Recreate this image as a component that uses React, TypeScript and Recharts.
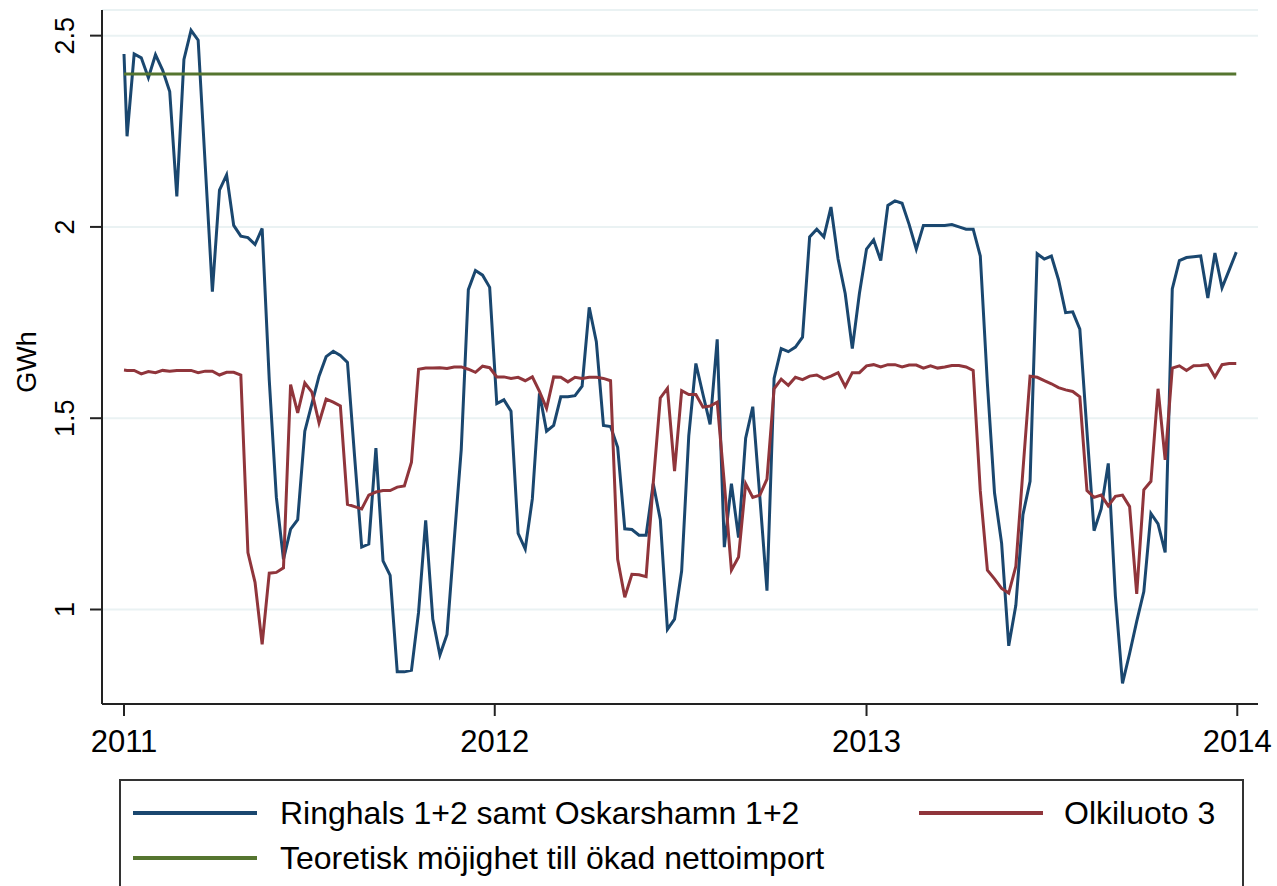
import React from 'react';
import { LineChart, Line, XAxis, YAxis, CartesianGrid, Label } from 'recharts';

// ── Look (Stata s2color-ish) ─────────────────────────────────────────────
const FONT = '"Liberation Sans", Arial, Helvetica, sans-serif';
const C = {
  navy: '#1a476f',
  maroon: '#90353b',
  green: '#55752f',
  grid: '#eaf2f3',
  axis: '#222222',
  text: '#000000',
};

// ── Data ─────────────────────────────────────────────────────────────────
// x = days since 2011-01-01: one obs on Jan 1, then weekly from Jan 4
const obsDays = [0, ...Array.from({ length: 157 }, (_, n) => 3 + 7 * n)];

// Ringhals 1+2 samt Oskarshamn 1+2 (GWh)
const ringhals = [
  2.452, 2.237, 2.452, 2.442, 2.39, 2.45, 2.41, 2.354, 2.08, 2.438, 2.514, 2.488, 2.16, 1.831,
  2.096, 2.136, 2.004, 1.976, 1.972, 1.954, 1.996, 1.6, 1.293, 1.131, 1.21, 1.235, 1.466, 1.538,
  1.61, 1.661, 1.675, 1.664, 1.646, 1.4, 1.163, 1.171, 1.422, 1.127, 1.089, 0.837, 0.837, 0.841,
  0.993, 1.233, 0.975, 0.881, 0.935, 1.179, 1.418, 1.836, 1.886, 1.874, 1.842, 1.538, 1.548,
  1.518, 1.199, 1.158, 1.289, 1.565, 1.466, 1.481, 1.556, 1.556, 1.559, 1.584, 1.79, 1.7, 1.481,
  1.478, 1.424, 1.211, 1.209, 1.194, 1.194, 1.329, 1.235, 0.948, 0.975, 1.101, 1.454, 1.643,
  1.562, 1.484, 1.706, 1.163, 1.329, 1.188, 1.448, 1.53, 1.293, 1.049, 1.604, 1.682, 1.674,
  1.686, 1.712, 1.974, 1.994, 1.974, 2.052, 1.916, 1.826, 1.682, 1.826, 1.942, 1.966, 1.912,
  2.056, 2.068, 2.062, 2.006, 1.942, 2.004, 2.004, 2.004, 2.004, 2.006, 2.0, 1.994, 1.994, 1.924,
  1.59, 1.305, 1.173, 0.905, 1.011, 1.248, 1.335, 1.93, 1.916, 1.924, 1.862, 1.776, 1.778, 1.733,
  1.466, 1.206, 1.263, 1.382, 1.035, 0.807, 0.885, 0.969, 1.047, 1.251, 1.224, 1.149, 1.838,
  1.912, 1.92, 1.922, 1.924, 1.814, 1.932, 1.841, 1.887, 1.934,
];

// Olkiluoto 3 (GWh)
const olkiluoto = [
  1.626, 1.625, 1.625, 1.616, 1.622, 1.619, 1.625, 1.623, 1.625, 1.625, 1.625, 1.619, 1.623,
  1.623, 1.613, 1.62, 1.62, 1.613, 1.149, 1.071, 0.909, 1.095, 1.097, 1.109, 1.588, 1.514, 1.592,
  1.568, 1.488, 1.55, 1.542, 1.532, 1.275, 1.269, 1.263, 1.299, 1.307, 1.311, 1.311, 1.32, 1.323,
  1.385, 1.628, 1.631, 1.631, 1.632, 1.63, 1.634, 1.634, 1.628, 1.62, 1.636, 1.632, 1.608, 1.608,
  1.604, 1.607, 1.598, 1.608, 1.57, 1.526, 1.608, 1.607, 1.595, 1.607, 1.604, 1.607, 1.607,
  1.604, 1.598, 1.131, 1.032, 1.092, 1.091, 1.086, 1.33, 1.553, 1.578, 1.362, 1.572, 1.562,
  1.562, 1.529, 1.532, 1.542, 1.33, 1.103, 1.137, 1.329, 1.293, 1.299, 1.341, 1.577, 1.602,
  1.586, 1.607, 1.601, 1.61, 1.613, 1.603, 1.61, 1.619, 1.583, 1.619, 1.619, 1.637, 1.64, 1.634,
  1.64, 1.64, 1.634, 1.639, 1.639, 1.631, 1.637, 1.631, 1.634, 1.638, 1.638, 1.634, 1.625, 1.31,
  1.103, 1.08, 1.055, 1.043, 1.113, 1.364, 1.61, 1.607, 1.598, 1.59, 1.58, 1.574, 1.57, 1.556,
  1.311, 1.293, 1.299, 1.271, 1.296, 1.299, 1.269, 1.041, 1.313, 1.335, 1.577, 1.391, 1.631,
  1.637, 1.625, 1.637, 1.638, 1.64, 1.608, 1.64, 1.643, 1.643,
];

// Teoretisk möjighet till ökad nettoimport (flat 2.4 GWh over the period)
const importCap = [
  { day: 0, value: 2.4 },
  { day: 1095, value: 2.4 },
];

const yearTicks = [0, 365, 731, 1096];
const yearLabels = ['2011', '2012', '2013', '2014'];
const gwhTicks = [1, 1.5, 2, 2.5];
const gwhLabels = ['1', '1.5', '2', '2.5'];

const rows = obsDays.map((day, i) => ({
  day,
  ringhals: ringhals[i],
  olkiluoto: olkiluoto[i],
}));

// ── Ticks ────────────────────────────────────────────────────────────────
function YearTick(props: any) {
  const { x, y, payload } = props;
  return (
    <text x={x} y={y + 36} textAnchor="middle" fontSize={31} fontFamily={FONT} fill={C.text}>
      {yearLabels[yearTicks.indexOf(payload.value)]}
    </text>
  );
}

function GwhTick(props: any) {
  const { x, y, payload } = props;
  const bx = x - 16;
  return (
    <text
      transform={`translate(${bx},${y}) rotate(-90)`}
      textAnchor="middle"
      fontSize={27}
      fontFamily={FONT}
      fill={C.text}
    >
      {gwhLabels[gwhTicks.indexOf(payload.value)]}
    </text>
  );
}

// ── Legend (boxed, Stata style) ──────────────────────────────────────────
const legendText: React.CSSProperties = {
  position: 'absolute',
  fontFamily: FONT,
  fontSize: 32,
  lineHeight: '32px',
  color: C.text,
  whiteSpace: 'nowrap',
};

function Swatch({ left, top, color }: { left: number; top: number; color: string }) {
  return (
    <div
      style={{ position: 'absolute', left, top: top - 2, width: 124, height: 4, background: color }}
    />
  );
}

export default function App() {
  return (
    <div
      style={{
        position: 'absolute',
        left: 0,
        top: 0,
        width: 1277,
        height: 886,
        overflow: 'hidden',
        background: '#fff',
      }}
    >
      <LineChart
        width={1277}
        height={886}
        data={rows}
        margin={{ top: 10, right: 19, bottom: 122, left: 0 }}
      >
        <CartesianGrid horizontal vertical={false} stroke={C.grid} strokeWidth={2} />
        <XAxis
          dataKey="day"
          type="number"
          domain={[-21.66, 1116.4]}
          allowDataOverflow
          ticks={yearTicks}
          tick={<YearTick />}
          tickSize={12}
          tickMargin={0}
          height={60}
          axisLine={{ stroke: C.axis, strokeWidth: 2 }}
          tickLine={{ stroke: C.axis, strokeWidth: 2 }}
        />
        <YAxis
          type="number"
          domain={[0.753, 2.567]}
          allowDataOverflow
          ticks={gwhTicks}
          tick={<GwhTick />}
          tickSize={12}
          tickMargin={0}
          width={102}
          axisLine={{ stroke: C.axis, strokeWidth: 2 }}
          tickLine={{ stroke: C.axis, strokeWidth: 2 }}
        >
          <Label
            content={() => (
              <text
                transform="translate(36,362) rotate(-90)"
                textAnchor="middle"
                fontSize={27}
                fontFamily={FONT}
                fill={C.text}
              >
                GWh
              </text>
            )}
          />
        </YAxis>
        <Line
          type="linear"
          dataKey="ringhals"
          stroke={C.navy}
          strokeWidth={3}
          dot={false}
          activeDot={false}
          isAnimationActive={false}
        />
        <Line
          type="linear"
          dataKey="olkiluoto"
          stroke={C.maroon}
          strokeWidth={3}
          dot={false}
          activeDot={false}
          isAnimationActive={false}
        />
        <Line
          type="linear"
          data={importCap}
          dataKey="value"
          stroke={C.green}
          strokeWidth={3}
          dot={false}
          activeDot={false}
          isAnimationActive={false}
        />
      </LineChart>

      <div
        style={{
          position: 'absolute',
          left: 119,
          top: 779,
          width: 1125,
          height: 200,
          border: '2px solid #333',
          boxSizing: 'border-box',
        }}
      />
      <Swatch left={133} top={813} color={C.navy} />
      <span style={{ ...legendText, left: 280, top: 813 - 16 }}>Ringhals 1+2 samt Oskarshamn 1+2</span>
      <Swatch left={919} top={813} color={C.maroon} />
      <span style={{ ...legendText, left: 1064, top: 813 - 16 }}>Olkiluoto 3</span>
      <Swatch left={133} top={858} color={C.green} />
      <span style={{ ...legendText, left: 280, top: 858 - 16 }}>
        Teoretisk möjighet till ökad nettoimport
      </span>
    </div>
  );
}
